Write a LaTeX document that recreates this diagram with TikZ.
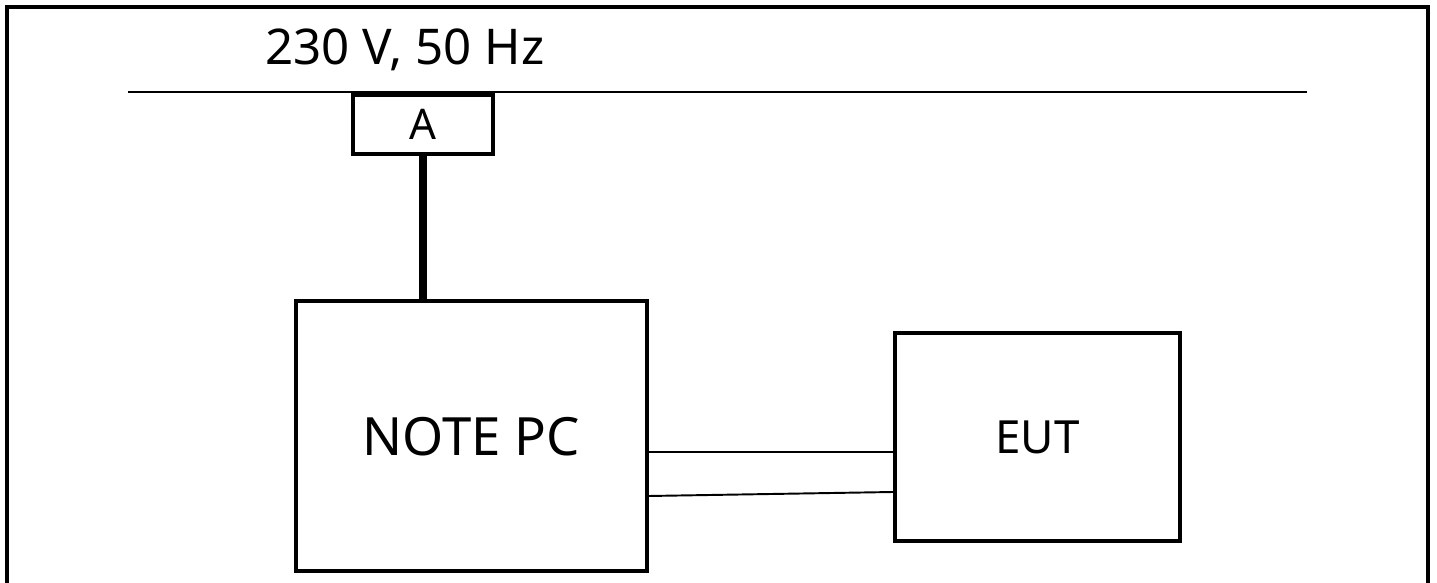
\documentclass[tikz,border=0pt]{standalone}
\usepackage{fontspec}
\setmainfont{Noto Sans}
\begin{document}
\begin{tikzpicture}[x=0.01cm,y=-0.01cm,line join=miter,
	box/.style={draw,line width=0.95pt,inner sep=0pt},
	wire/.style={line width=0.55pt}]
	\useasboundingbox (0,0) rectangle (1437,583);
	\draw[line width=0.95pt] (7,600)--(7,7)--(1428,7)--(1428,600);
	\node[anchor=base,font=\fontsize{14}{16}\selectfont] (mains) at (405,65) {230 V, 50 Hz};
	\coordinate (busL) at (128,92);
	\coordinate (busR) at (1307,92);
	\draw[line width=0.7pt] (busL)--(busR);
	\node[box,minimum width=1.40cm,minimum height=0.59cm,font=\fontsize{12}{14}\selectfont] (meter) at (423,124.5) {A};
	\node[box,minimum width=3.51cm,minimum height=2.70cm,font=\fontsize{15}{18}\selectfont,text depth=0pt] (pc) at (471.5,436) {NOTE PC};
	\node[box,minimum width=2.85cm,minimum height=2.08cm,font=\fontsize{13}{15}\selectfont,text depth=0pt] (eut) at (1037.5,437) {EUT};
	\draw[line width=2pt] (meter.south)--(meter.south |- pc.north);
	\draw[wire] (pc.east |- 0,452)--(eut.west |- 0,452);
	\draw[wire] (pc.east |- 0,496)--(eut.west |- 0,492);
\end{tikzpicture}
\end{document}
